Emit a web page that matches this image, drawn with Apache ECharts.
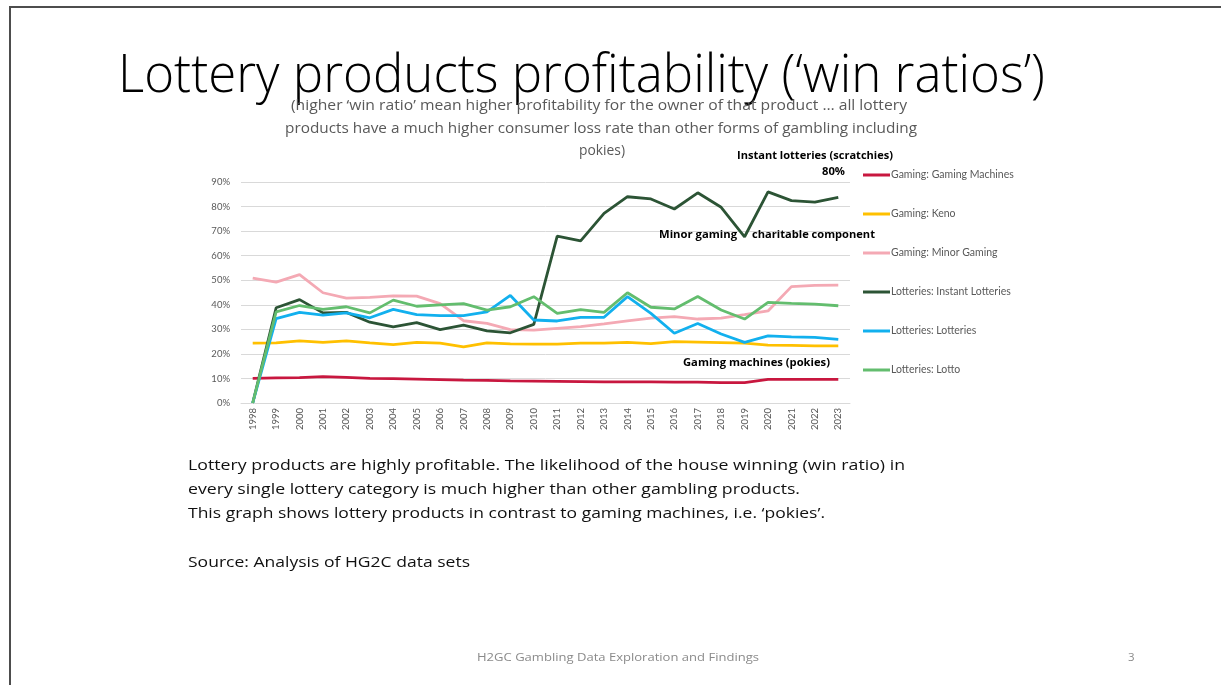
<!DOCTYPE html>
<html>
<head>
<meta charset="utf-8">
<script src="https://cdn.jsdelivr.net/npm/echarts@6/dist/echarts.min.js"></script>
<style>
  html, body { margin: 0; padding: 0; background: #fff; }
  #chart { width: 1221px; height: 685px; }
</style>
</head>
<body>
<div id="chart"></div>
<script>
// Years on the horizontal axis
const years = ['1998','1999','2000','2001','2002','2003','2004','2005','2006','2007','2008','2009','2010',
  '2011','2012','2013','2014','2015','2016','2017','2018','2019','2020','2021','2022','2023'];

// Win ratios, percent of turnover kept by the operator
const gamingMachines = [10.0,10.2,10.3,10.7,10.4,10.0,9.9,9.7,9.5,9.3,9.2,9.0,8.9,8.8,8.7,8.6,8.6,8.6,8.5,8.5,8.3,8.3,9.6,9.6,9.6,9.6];
const keno = [24.4,24.5,25.3,24.7,25.3,24.5,23.8,24.7,24.4,22.9,24.5,24.1,24.0,24.0,24.4,24.4,24.7,24.2,25.0,24.8,24.6,24.4,23.6,23.5,23.3,23.3];
const minorGaming = [50.9,49.2,52.3,44.9,42.7,43.0,43.6,43.5,40.5,33.5,32.4,29.9,29.7,30.4,31.1,32.2,33.4,34.6,35.2,34.2,34.6,36.0,37.5,47.4,47.9,48.0];
const instantLotteries = [0,38.8,42.1,36.7,36.9,32.9,31.0,32.7,29.9,31.7,29.4,28.6,32.0,68.0,66.0,77.2,84.0,83.1,79.0,85.6,79.7,67.7,86.0,82.4,81.8,83.7];
const lotteries = [0,34.4,36.9,35.8,36.7,34.7,38.1,36.0,35.6,35.6,37.1,43.8,33.8,33.4,34.9,34.9,43.3,36.5,28.4,32.4,28.1,24.7,27.3,26.9,26.7,25.9];
const lotto = [0,37.1,39.7,38.1,39.2,36.7,41.9,39.4,40.0,40.5,37.8,39.2,43.3,36.5,38.0,36.9,44.9,39.0,38.3,43.4,37.9,34.2,41.0,40.6,40.3,39.6];

const seriesDefs = [
  { name: 'Gaming: Gaming Machines', data: gamingMachines, color: '#c8173f' },
  { name: 'Gaming: Keno', data: keno, color: '#ffc000' },
  { name: 'Gaming: Minor Gaming', data: minorGaming, color: '#f4a9b4' },
  { name: 'Lotteries: Instant Lotteries', data: instantLotteries, color: '#2c5435' },
  { name: 'Lotteries: Lotteries', data: lotteries, color: '#12b0ee' },
  { name: 'Lotteries: Lotto', data: lotto, color: '#63bd6e' }
];

// Horizontal squeeze so a text run spans a given width
const measureCtx = document.createElement('canvas').getContext('2d');
function squeeze(str, size, weight, family, width) {
  measureCtx.font = weight + ' ' + size + 'px ' + family;
  return width / measureCtx.measureText(str).width;
}
function label(str, x, y, opts) {
  const size = opts.size, weight = opts.weight || 'normal', family = opts.family || '"Open Sans"';
  const sx = opts.width ? squeeze(str, size, weight, family, opts.width) : 1;
  return {
    type: 'text', x: x, y: y, scaleX: sx, silent: true, z: 20,
    style: {
      text: str, fontSize: size, fontWeight: weight, fontFamily: family,
      fill: opts.color || '#000', align: opts.align || 'left', verticalAlign: 'middle'
    }
  };
}

const grey = '#595959';
const texts = [
  label('Lottery products profitability (\u2018win ratios\u2019)', 118, 77, { size: 54, weight: 300, width: 927, color: '#000' }),
  label('(higher \u2018win ratio\u2019 mean higher profitability for the owner of that product \u2026 all lottery', 291, 106, { size: 14.5, width: 616, color: grey }),
  label('products have a much higher consumer loss rate than other forms of gambling including', 285, 129, { size: 14.5, width: 632, color: grey }),
  label('pokies)', 602, 151, { size: 14.5, width: 46, color: grey, align: 'center' }),
  label('Instant lotteries (scratchies)', 737, 156, { size: 10.5, weight: 'bold', width: 156 }),
  label('80%', 822, 172, { size: 10.5, weight: 'bold', width: 23 }),
  label('Minor gaming', 659, 235, { size: 10.5, weight: 'bold', width: 78 }),
  label('charitable component', 752, 235, { size: 10.5, weight: 'bold', width: 123 }),
  label('Gaming machines (pokies)', 683, 363, { size: 10.5, weight: 'bold', width: 147 }),
  label('Lottery products are highly profitable. The likelihood of the house winning (win ratio) in', 188, 466, { size: 15, width: 717, color: '#111' }),
  label('every single lottery category is much higher than other gambling products.', 188, 490, { size: 15, width: 612, color: '#111' }),
  label('This graph shows lottery products in contrast to gaming machines, i.e. \u2018pokies\u2019.', 188, 514, { size: 15, width: 637, color: '#111' }),
  label('Source: Analysis of HG2C data sets', 188, 563, { size: 15, width: 282, color: '#111' }),
  label('H2GC Gambling Data Exploration and Findings', 477, 658, { size: 11.5, width: 282, color: '#8a8a8a' }),
  label('3', 1128, 658, { size: 11.5, color: '#8a8a8a' })
];

// Slide frame
const frame = [
  { type: 'line', silent: true, shape: { x1: 9, y1: 7, x2: 1221, y2: 7 }, style: { stroke: '#4d4d4d', lineWidth: 2 } },
  { type: 'line', silent: true, shape: { x1: 10, y1: 6, x2: 10, y2: 685 }, style: { stroke: '#4d4d4d', lineWidth: 2 } }
];

const chart = echarts.init(document.getElementById('chart'), null, { renderer: 'canvas' });
chart.setOption({
  backgroundColor: '#fff',
  animation: false,
  textStyle: { fontFamily: 'Lato' },
  grid: { left: 241, right: 371, top: 182, bottom: 282 },
  legend: {
    orient: 'vertical', left: 858, top: 164,
    selectedMode: false, icon: 'rect', itemWidth: 27, itemHeight: 3, itemGap: 27,
    textStyle: { fontSize: 10.5, color: grey, lineHeight: 12, padding: [0, 0, 0, -4] },
    data: seriesDefs.map(s => s.name)
  },
  xAxis: {
    type: 'category', data: years, boundaryGap: true,
    axisLine: { lineStyle: { color: '#d9d9d9', width: 1 } },
    axisTick: { show: false },
    axisLabel: { rotate: 90, fontSize: 9.5, color: grey, margin: 5 }
  },
  yAxis: {
    type: 'value', min: 0, max: 90, interval: 10,
    axisLine: { show: false }, axisTick: { show: false },
    splitLine: { lineStyle: { color: '#d9d9d9', width: 1 } },
    axisLabel: { formatter: '{value}%', fontSize: 9.5, color: grey, margin: 11 }
  },
  series: seriesDefs.map(s => ({
    name: s.name, type: 'line', data: s.data, showSymbol: false, symbol: 'none',
    lineStyle: { color: s.color, width: 2.8 }, itemStyle: { color: s.color },
    emphasis: { disabled: true }
  })),
  graphic: frame.concat(texts)
});
</script>
</body>
</html>
